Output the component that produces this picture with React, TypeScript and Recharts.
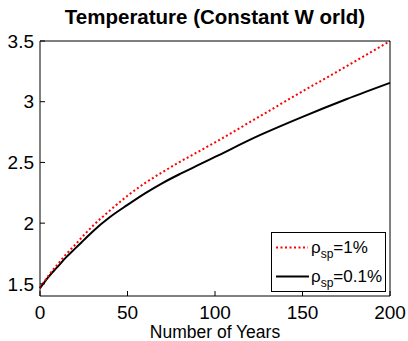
import { LineChart, Line, XAxis, YAxis, Legend, Label } from "recharts";

const years = [0, 5, 10, 15, 20, 25, 30, 40, 50, 60, 70, 80, 90, 100, 125, 150, 175, 200];
const tempRho1 = [1.465, 1.57, 1.66, 1.745, 1.82, 1.9, 1.975, 2.105, 2.225, 2.33, 2.42, 2.505, 2.585, 2.665, 2.875, 3.085, 3.29, 3.5];
const tempRho01 = [1.465, 1.56, 1.64, 1.72, 1.79, 1.86, 1.93, 2.05, 2.15, 2.245, 2.33, 2.405, 2.475, 2.545, 2.72, 2.875, 3.02, 3.155];
const xTicks = [0, 50, 100, 150, 200];
const yTicks = [1.5, 2, 2.5, 3, 3.5];

const data = years.map((year, i) => ({ year, rho1: tempRho1[i], rho01: tempRho01[i] }));

const FONT = "'Liberation Sans', Arial, Helvetica, sans-serif";

function LegendBox() {
  return (
    <svg width={116} height={60} style={{ display: "block" }}>
      <rect x={0.5} y={0.5} width={114} height={59} fill="#fff" stroke="#000" strokeWidth={1} />
      <line x1={5} y1={15.5} x2={37} y2={15.5} stroke="#ff0000" strokeWidth={2} strokeDasharray="2 2.5" />
      <text x={40} y={21} fontSize={17} fontFamily={FONT} fill="#000">
        ρ<tspan fontSize={12} dy={5} fill="#000">sp</tspan>
        <tspan dy={-5} fill="#000">=1%</tspan>
      </text>
      <line x1={5} y1={44.5} x2={38} y2={44.5} stroke="#000" strokeWidth={2} />
      <text x={40} y={50} fontSize={17} fontFamily={FONT} fill="#000">
        ρ<tspan fontSize={12} dy={5} fill="#000">sp</tspan>
        <tspan dy={-5} fill="#000">=0.1%</tspan>
      </text>
    </svg>
  );
}

export default function App() {
  const tickStyle = { fontSize: 19, fontFamily: FONT, fill: "#000" };
  return (
    <div style={{ position: "absolute", left: 0, top: 0, width: 408, height: 341, background: "#fff" }}>
      <LineChart width={408} height={341} data={data} margin={{ top: 40, right: 17, bottom: 0, left: 0 }}>
        <XAxis
          xAxisId="bottom"
          dataKey="year"
          type="number"
          domain={[0, 200]}
          ticks={xTicks}
          interval={0}
          height={45}
          tickSize={-5}
          tickMargin={15}
          stroke="#000"
          tick={tickStyle}
        >
          <Label value="Number of Years" position="insideBottom" offset={3} style={{ fontSize: 17.5, fontFamily: FONT, fill: "#000" }} />
        </XAxis>
        <XAxis
          xAxisId="top"
          orientation="top"
          dataKey="year"
          type="number"
          domain={[0, 200]}
          ticks={xTicks}
          interval={0}
          height={1}
          tickSize={-5}
          tick={false}
          stroke="#000"
        >
          <Label
            value="Temperature (Constant W orld)"
            position="top"
            offset={16}
            style={{ fontSize: 20.5, fontWeight: "bold", fontFamily: FONT, fill: "#000" }}
          />
        </XAxis>
        <YAxis
          yAxisId="left"
          type="number"
          domain={[1.4, 3.5]}
          ticks={yTicks}
          interval={0}
          width={40}
          tickSize={-5}
          tickMargin={11}
          stroke="#000"
          tick={tickStyle}
        />
        <YAxis
          yAxisId="right"
          orientation="right"
          type="number"
          domain={[1.4, 3.5]}
          ticks={yTicks}
          interval={0}
          width={1}
          tickSize={-5}
          tick={false}
          stroke="#000"
        />
        <Line
          xAxisId="bottom"
          yAxisId="left"
          type="monotone"
          dataKey="rho01"
          stroke="#000"
          strokeWidth={2}
          dot={false}
          isAnimationActive={false}
        />
        <Line
          xAxisId="bottom"
          yAxisId="left"
          type="monotone"
          dataKey="rho1"
          stroke="#ff0000"
          strokeWidth={2}
          strokeDasharray="2 2.5"
          dot={false}
          isAnimationActive={false}
        />
        <Legend
          layout="horizontal"
          verticalAlign="middle"
          align="center"
          content={() => <LegendBox />}
          wrapperStyle={{ position: "absolute", left: 271, top: 232, width: 116, height: 60 }}
        />
      </LineChart>
    </div>
  );
}
